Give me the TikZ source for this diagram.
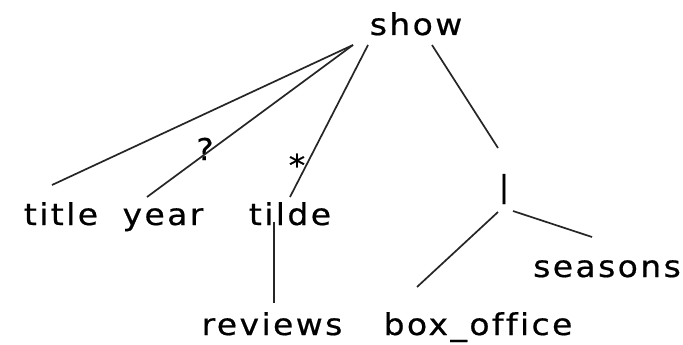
\documentclass[tikz,border=0pt]{standalone}
\usepackage{fontspec}
\setmainfont{DejaVu Sans}[LetterSpace=8,FakeStretch=1.1,FakeBold=0.6,Ligatures=NoCommon]
\begin{document}
\begin{tikzpicture}[x=1pt,y=-1pt,
  lbl/.style={font=\fontsize{30}{32}\selectfont, inner sep=0pt, anchor=base},
  symb/.style={font=\fontsize{30}{32}\selectfont, inner sep=0pt},
  edge/.style={line width=1.7pt, black!85}]
\useasboundingbox (0,0) rectangle (683,345);
\fill[white] (0,0) rectangle (683,345);
% labels
\node[lbl] (show) at (416,35) {show};
\node[lbl] (title) at (61,225) {title};
\node[lbl] (year) at (163,225) {year};
\node[lbl] (tilde) at (290,225) {tilde};
\node[symb] (bar) at (504,189) {|};
\node[lbl] (seasons) at (607,277) {seasons};
\node[lbl] (reviews) at (272,335) {reviews};
\node[lbl] (boxoffice) at (478,335) {box\_office};
\node[symb, anchor=base] (q) at (205,160) {?};
\node[symb, anchor=base] (star) at (297,176) {*};
% connector ends
\coordinate (showL) at (353,45);
\coordinate (showM) at (368,45);
\coordinate (showR) at (432,45);
\coordinate (titleT) at (52,185);
\coordinate (yearT) at (147,197);
\coordinate (tildeT) at (290,197);
\coordinate (tildeB) at (274,222);
\coordinate (reviewsT) at (274,303);
\coordinate (barT) at (498,148);
\coordinate (barBL) at (498,212);
\coordinate (barBR) at (513,211);
\coordinate (boxT) at (417,287);
\coordinate (seasonsT) at (592,237);
% connectors
\draw[edge] (showL) -- (titleT);
\draw[edge] (showL) -- (yearT);
\draw[edge] (showM) -- (tildeT);
\draw[edge] (showR) -- (barT);
\draw[edge] (tildeB) -- (reviewsT);
\draw[edge] (barBL) -- (boxT);
\draw[edge] (barBR) -- (seasonsT);
\end{tikzpicture}
\end{document}
